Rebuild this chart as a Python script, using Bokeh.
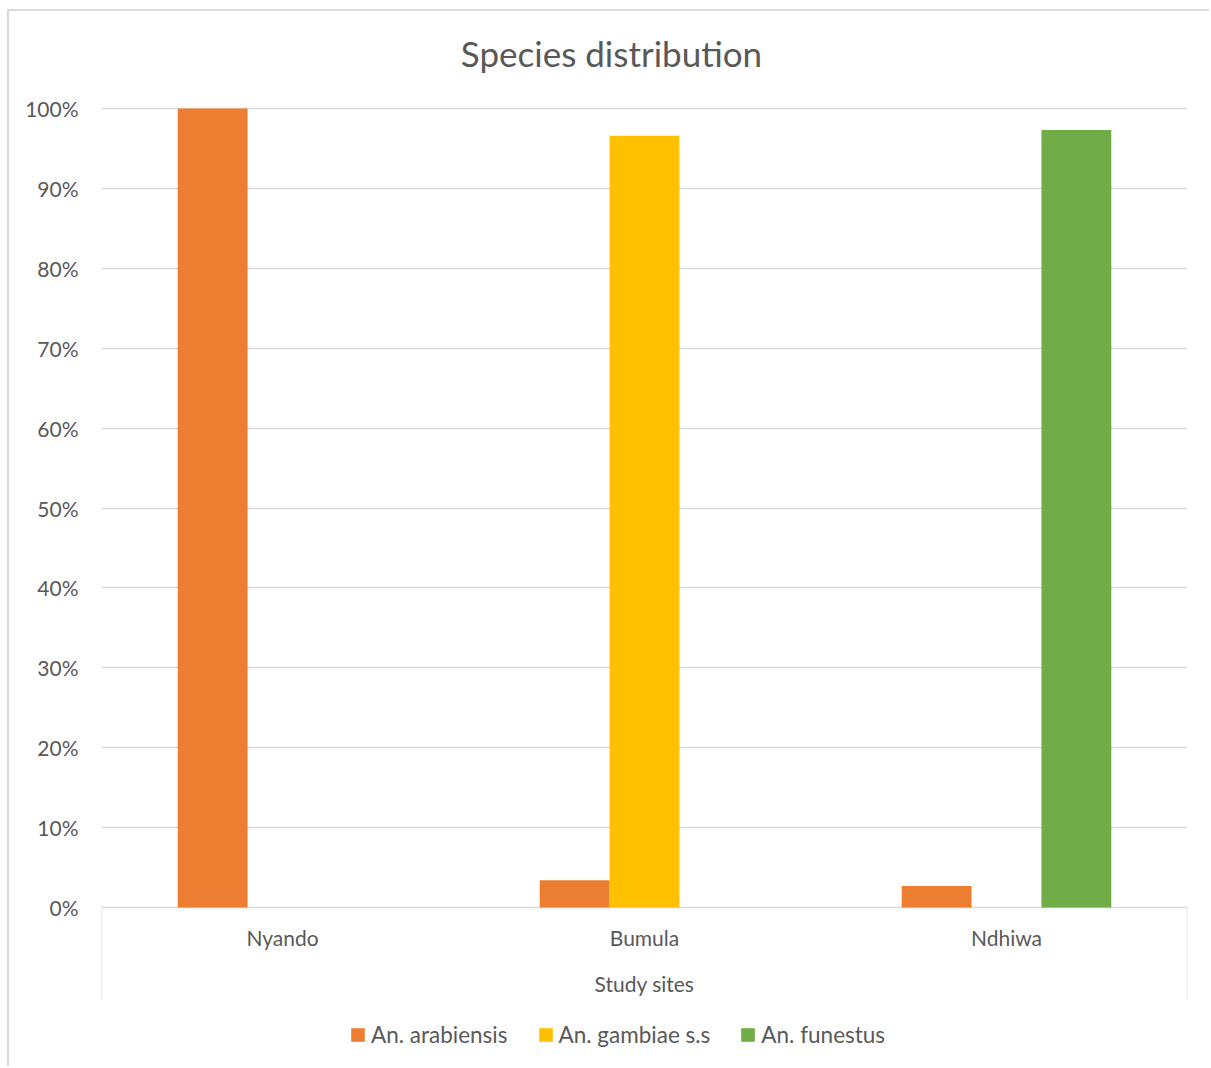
from bokeh.plotting import figure
from bokeh.models import (Range1d, FixedTicker, NumeralTickFormatter, Legend,
                          LegendItem, ColumnDataSource, Label)
from bokeh.transform import dodge
from bokeh.embed import file_html
from bokeh.resources import INLINE

# ---- data ----
sites = ["Nyando", "Bumula", "Ndhiwa"]
series = ["An. arabiensis", "An. gambiae s.s", "An. funestus"]
arabiensis = [1.000, 0.034, 0.027]
gambiae = [0.000, 0.966, 0.000]
funestus = [0.000, 0.000, 0.973]
y_ticks = [0.0, 0.1, 0.2, 0.3, 0.4, 0.5, 0.6, 0.7, 0.8, 0.9, 1.0]
colors = ["#ED7D31", "#FFC000", "#70AD47"]
title_text = "Species distribution"
x_title = "Study sites"

FONT = "Lato"
TXT = "#595959"
GRID = "#d9d9d9"

n = len(sites)
centers = [i + 0.5 for i in range(n)]   # category slot centres on a 0..n axis

# ---- layout (page pixels) ----
PX_PER_UNIT = 799.0          # 0% -> 100% span
FRAME_TOP, ZERO_Y, BAND_Y, FRAME_BOTTOM = 23, 907, 1000, 1058
Y_END = 1 + (ZERO_Y - PX_PER_UNIT - FRAME_TOP) / PX_PER_UNIT
Y_START = -(FRAME_BOTTOM - ZERO_Y) / PX_PER_UNIT
Y_BAND = -(BAND_Y - ZERO_Y) / PX_PER_UNIT

p = figure(x_range=Range1d(0, n), y_range=Range1d(Y_START, Y_END),
           width=1202, height=1057, output_backend="svg", toolbar_location=None,
           min_border_left=92, min_border_right=24,
           min_border_top=FRAME_TOP - 11, min_border_bottom=1068 - FRAME_BOTTOM)
p.title = None
p.margin = (11, 0, 0, 9)
p.styles = {"box-shadow": "-2px -2px 0 0 #d9d9d9"}
p.outline_line_color = None
p.background_fill_color = "white"
p.border_fill_color = "white"

# title (drawn inside the frame area, above the 100% line)
p.add_layout(Label(x=(611 - 101) / 362.0, y=(ZERO_Y - 52) / PX_PER_UNIT,
                   text=title_text, text_align="center", text_baseline="middle",
                   text_font=FONT, text_font_size="35px", text_color=TXT))

# bars
bw = 0.193
offsets = [-bw, 0.0, bw]
renderers = []
for vals, col, off in zip([arabiensis, gambiae, funestus], colors, offsets):
    src = ColumnDataSource(dict(pos=centers, v=vals))
    r = p.vbar(x=dodge("pos", off), top="v", width=bw,
               source=src, fill_color=col, line_color=None)
    renderers.append(r)

# y axis
ya = p.yaxis[0]
ya.ticker = FixedTicker(ticks=y_ticks)
ya.formatter = NumeralTickFormatter(format="0%")
ya.axis_line_color = None
ya.major_tick_line_color = None
ya.minor_tick_line_color = None
ya.major_label_standoff = 17
ya.major_label_text_font = FONT
ya.major_label_text_font_size = "21px"
ya.major_label_text_color = TXT
p.ygrid.ticker = FixedTicker(ticks=y_ticks)
p.ygrid.grid_line_color = GRID
p.ygrid.grid_line_width = 1.5
p.xgrid.visible = False

# x axis drawn at the bottom of the category band; edge lines = inward minor ticks
xa = p.xaxis[0]
xa.fixed_location = Y_BAND
xa.ticker = FixedTicker(ticks=centers, minor_ticks=[0, n])
xa.major_label_overrides = {c: s for c, s in zip(centers, sites)}
xa.axis_label = x_title
xa.axis_line_color = None
xa.major_tick_line_color = None
xa.major_tick_out = 0
xa.major_tick_in = 0
xa.minor_tick_line_color = GRID
xa.minor_tick_line_width = 1.5
xa.minor_tick_out = 0
xa.minor_tick_in = BAND_Y - ZERO_Y
xa.major_label_standoff = -76
xa.major_label_text_font = FONT
xa.major_label_text_font_size = "21px"
xa.major_label_text_color = TXT
xa.axis_label_standoff = 19
xa.axis_label_text_font = FONT
xa.axis_label_text_font_size = "21px"
xa.axis_label_text_font_style = "normal"
xa.axis_label_text_color = TXT

# legend
legend = Legend(items=[LegendItem(label=s, renderers=[r]) for s, r in zip(series, renderers)],
                orientation="horizontal", location=(248, 10))
legend.padding = 0
legend.margin = 0
legend.border_line_color = None
legend.background_fill_alpha = 0
legend.glyph_width = 17
legend.glyph_height = 17
legend.label_standoff = 5
legend.spacing = 29
legend.label_text_font = FONT
legend.label_text_font_size = "22.5px"
legend.label_text_color = TXT
p.add_layout(legend, "center")

open("out.html", "w").write(file_html(p, INLINE))
